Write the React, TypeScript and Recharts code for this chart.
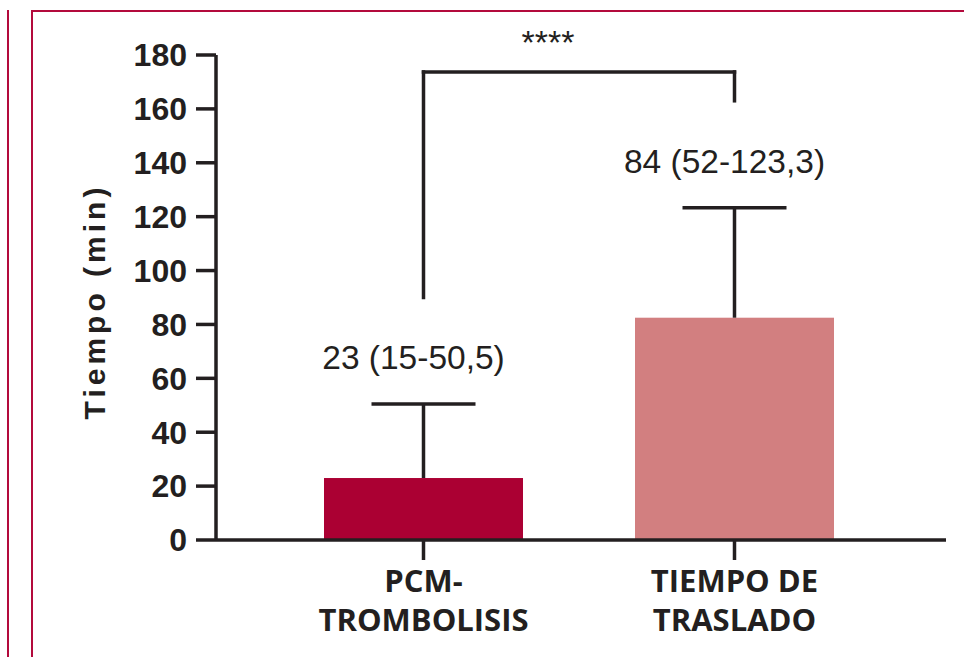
import { Bar, ComposedChart, Label, LabelList, ReferenceLine, XAxis, YAxis } from 'recharts'

const INK = '#231f20'
const FRAME = '#b30a3c'
const SANS = "'Liberation Sans', Arial, sans-serif"

const categories = ['PCM-\nTROMBOLISIS', 'TIEMPO DE\nTRASLADO']
const medians = [23, 82.5]
const upperQuartiles = [50.5, 123.3]
const valueLabels = ['23 (15-50,5)', '84 (52-123,3)']
const barColors = ['#ab0033', '#d27f80']
const yTicks = [0, 20, 40, 60, 80, 100, 120, 140, 160, 180]

// significance bracket between the two groups
const bracketStart = 90
const bracketTop = 173.7
const bracketEnd = 163
const bracketLabel = '****'

const data = categories.map((name, i) => ({
  name,
  median: medians[i],
  q3: upperQuartiles[i],
}))

function capY(y: number, height: number, index: number) {
  const perUnit = height / medians[index]
  return y + height - upperQuartiles[index] * perUnit
}

function MedianBar(props: any) {
  const { x, y, width, height, index } = props
  const cx = x + width / 2
  const top = capY(y, height, index)
  return (
    <g>
      <rect x={x} y={y} width={width} height={height} fill={barColors[index]} />
      <line x1={cx} x2={cx} y1={y} y2={top} stroke={INK} strokeWidth={3.5} />
      <line x1={cx - 52} x2={cx + 52} y1={top} y2={top} stroke={INK} strokeWidth={3.5} />
    </g>
  )
}

function ValueLabel(props: any) {
  const { x, y, width, height, index } = props
  const top = capY(y, height, index)
  return (
    <text
      x={x + width / 2 - 10}
      y={top - 35}
      textAnchor="middle"
      fill={INK}
      fontFamily={SANS}
      fontSize={33.5}
    >
      {valueLabels[index]}
    </text>
  )
}

function CategoryTick(props: any) {
  const { x, y, payload } = props
  const lines = String(payload.value).split('\n')
  return (
    <text
      x={x}
      y={y}
      textAnchor="middle"
      fill={INK}
      fontFamily="'Open Sans', sans-serif"
      fontWeight={700}
      fontSize={31}
    >
      {lines.map((line, i) => (
        <tspan key={i} x={x} dy={i === 0 ? 30 : 39}>
          {line}
        </tspan>
      ))}
    </text>
  )
}

const bracketStyle = { stroke: INK, strokeWidth: 3.5, strokeLinecap: 'square' as const }

export default function App() {
  return (
    <div style={{ position: 'absolute', left: 0, top: 0, width: 964, height: 657, background: '#fff', overflow: 'hidden' }}>
      <div style={{ position: 'absolute', left: 7, top: 10, width: 2, height: 647, background: FRAME }} />
      <div
        style={{
          position: 'absolute',
          left: 31,
          top: 10,
          width: 940,
          height: 660,
          borderTop: `2px solid ${FRAME}`,
          borderLeft: `2.5px solid ${FRAME}`,
        }}
      />
      <div style={{ position: 'absolute', left: 0, top: 0 }}>
        <ComposedChart
          width={964}
          height={657}
          data={data}
          margin={{ top: 55, right: 18, bottom: 17, left: 32 }}
        >
          <XAxis
            dataKey="name"
            type="category"
            interval={0}
            height={100}
            padding={{ left: 52, right: 56 }}
            tickSize={20}
            axisLine={{ stroke: INK, strokeWidth: 3.5 }}
            tickLine={{ stroke: INK, strokeWidth: 3.5 }}
            tick={<CategoryTick />}
          />
          <YAxis
            type="number"
            domain={[0, 180]}
            ticks={yTicks}
            interval={0}
            width={184}
            tickSize={20}
            tickMargin={9}
            axisLine={{ stroke: INK, strokeWidth: 3.5 }}
            tickLine={{ stroke: INK, strokeWidth: 3.5 }}
            tick={{ fill: INK, fontSize: 32, fontWeight: 700, fontFamily: SANS }}
          >
            <Label
              content={(p: any) => {
                const vb = p.viewBox
                const cx = vb.x + 73
                const cy = vb.y + vb.height / 2 + 4
                return (
                  <text
                    x={cx}
                    y={cy}
                    transform={`rotate(-90 ${cx} ${cy})`}
                    textAnchor="middle"
                    fill={INK}
                    fontFamily={SANS}
                    fontWeight={700}
                    fontSize={30}
                    letterSpacing={4}
                  >
                    Tiempo (min)
                  </text>
                )
              }}
            />
          </YAxis>
          <Bar dataKey="median" barSize={199} shape={<MedianBar />} isAnimationActive={false}>
            <LabelList dataKey="median" content={<ValueLabel />} />
          </Bar>
          <ReferenceLine
            segment={[
              { x: categories[0], y: bracketStart },
              { x: categories[0], y: bracketTop },
            ]}
            {...bracketStyle}
          />
          <ReferenceLine
            segment={[
              { x: categories[0], y: bracketTop },
              { x: categories[1], y: bracketTop },
            ]}
            {...bracketStyle}
            label={{
              content: (p: any) => {
                const vb = p.viewBox
                return (
                  <text
                    x={vb.x + vb.width / 2 - 31}
                    y={vb.y - 18}
                    textAnchor="middle"
                    fill={INK}
                    fontFamily={SANS}
                    fontSize={34}
                  >
                    {bracketLabel}
                  </text>
                )
              },
            }}
          />
          <ReferenceLine
            segment={[
              { x: categories[1], y: bracketTop },
              { x: categories[1], y: bracketEnd },
            ]}
            {...bracketStyle}
          />
        </ComposedChart>
      </div>
    </div>
  )
}
